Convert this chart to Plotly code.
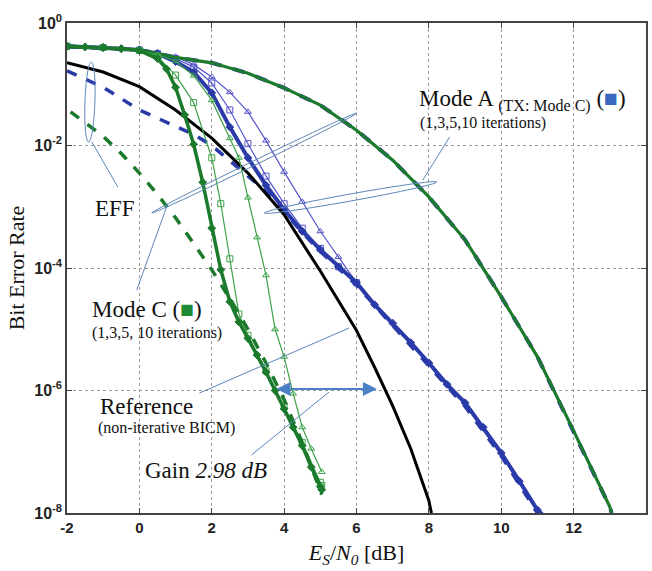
import numpy as np
import plotly.graph_objects as go

# ---------------- data (Es/N0 in dB, log10 of BER) ----------------
green_long_x = [-2, -1, 0, 1, 2, 3, 4, 5, 6, 7, 8, 9, 10, 11, 12, 13, 13.05]
green_long_log = [-0.38, -0.41, -0.44, -0.56, -0.65, -0.82, -1.06, -1.34, -1.75, -2.24,
                  -2.84, -3.54, -4.47, -5.45, -6.66, -7.9, -8.0]

ref_x = [-2, -1, 0, 1, 2, 3, 4, 5, 6, 6.5, 7, 7.5, 8, 8.07]
ref_log = [-0.65, -0.80, -1.04, -1.42, -1.88, -2.45, -3.13, -4.05, -5.02, -5.62, -6.25,
           -6.95, -7.8, -8.0]

a10_x = [-2, -1.5, -1, -0.5, 0, 0.5, 1, 1.5, 2, 2.5, 3, 3.5, 4, 4.5, 5, 5.5, 6, 6.5, 7,
         7.5, 8, 8.5, 9, 9.5, 10, 10.5, 11, 11.05]
a10_log = [-0.38, -0.39, -0.40, -0.42, -0.44, -0.5, -0.63, -0.8, -1.14, -1.7, -2.2, -2.65,
           -3.05, -3.4, -3.7, -3.98, -4.24, -4.6, -4.9, -5.22, -5.55, -5.9, -6.2, -6.6,
           -7.02, -7.48, -7.95, -8.0]

effa_x = [-2, -1, 0, 1, 1.5, 2, 2.5, 3, 3.5, 4, 4.5, 5, 6, 7, 8, 9, 10, 11]
effa_log = [-0.78, -1.05, -1.42, -1.68, -1.82, -2.0, -2.25, -2.5, -2.75, -3.08, -3.42,
            -3.73, -4.28, -4.94, -5.6, -6.26, -7.07, -8.0]

a3_x = [-2, -1, 0, 0.5, 1, 1.5, 2, 2.5, 3, 3.5, 4, 4.5, 5, 5.5, 6]
a3_log = [-0.38, -0.40, -0.44, -0.50, -0.58, -0.72, -0.98, -1.42, -1.97, -2.5, -2.95,
          -3.35, -3.68, -3.98, -4.24]

a1_x = [-2, -1, 0, 0.5, 1, 1.5, 2, 2.5, 3, 3.5, 4, 4.5, 5, 5.5, 6]
a1_log = [-0.38, -0.40, -0.44, -0.48, -0.55, -0.68, -0.88, -1.13, -1.45, -1.92, -2.43,
          -2.92, -3.4, -3.82, -4.24]

c10_x = [-2, -1.5, -1, -0.5, 0, 0.5, 0.75, 1, 1.25, 1.5, 1.75, 2, 2.25, 2.5, 2.75, 3,
         3.25, 3.5, 3.75, 4, 4.25, 4.5, 4.75, 5, 5.04]
c10_log = [-0.38, -0.39, -0.40, -0.42, -0.45, -0.58, -0.75, -1.05, -1.5, -1.98, -2.6,
           -3.35, -4.03, -4.55, -4.88, -5.15, -5.42, -5.7, -6.0, -6.3, -6.6, -6.9,
           -7.25, -7.57, -7.62]

c3_x = [-2, -1, 0, 0.5, 1, 1.5, 2, 2.25, 2.5, 2.75, 3, 3.5, 4, 4.5, 5, 5.04]
c3_log = [-0.38, -0.40, -0.45, -0.55, -0.85, -1.3, -2.2, -2.95, -3.85, -4.75, -5.1,
          -5.68, -6.25, -6.85, -7.5, -7.55]

c1_x = [-2, -1, 0, 0.5, 1, 1.5, 2, 2.5, 2.75, 3, 3.25, 3.5, 3.75, 4, 4.25, 4.5, 4.75, 5.04]
c1_log = [-0.38, -0.40, -0.45, -0.52, -0.62, -0.86, -1.26, -1.88, -2.2, -2.85, -3.5,
          -4.12, -5.0, -5.45, -6.05, -6.6, -6.95, -7.33]

effc_x = [-1.9, -1.5, -1, -0.5, 0, 0.5, 1, 1.5, 2, 2.5, 3, 3.5, 4, 4.5, 5.04]
effc_log = [-1.45, -1.62, -1.85, -2.13, -2.45, -2.8, -3.18, -3.6, -4.03, -4.5, -5.0,
            -5.55, -6.15, -6.85, -7.7]

x_ticks = [-2, 0, 2, 4, 6, 8, 10, 12, 14]
y_tick_exp = [0, -2, -4, -6, -8]

# ---------------- styling ----------------
BLUE = "#2a3aa8"
BLUE_THIN = "#5656cc"
GREEN = "#1b7a2b"
GREEN_THIN = "#3ea24a"
LEAD = "#5b86b8"
SERIF = "Liberation Serif, Times New Roman, serif"
SANS = "Liberation Sans, Arial, sans-serif"

W, H = 652, 571
L, R, T, B = 67, 648, 23, 513


def pv(v):
    return [10 ** a for a in v]


def P(px, py):
    return (px - L) / (R - L), (B - py) / (B - T)


fig = go.Figure()


def add(x, lg, color, width, dash="solid", symbol=None, msize=6, name=""):
    mode = "lines+markers" if symbol else "lines"
    fig.add_trace(go.Scatter(
        x=x, y=pv(lg), mode=mode, name=name,
        line=dict(color=color, width=width, dash=dash),
        marker=dict(symbol=symbol or "circle", size=msize, color=color,
                    line=dict(color=color, width=1)),
        showlegend=False, hoverinfo="skip"))


# blue curves first (under), then green
add(green_long_x, green_long_log, BLUE, 4, dash="dash", name="Mode A uncoded")
add(a1_x, a1_log, BLUE_THIN, 1.2, symbol="triangle-up-open", msize=6, name="Mode A 1 it")
add(a3_x, a3_log, BLUE_THIN, 1.2, symbol="square-open", msize=6, name="Mode A 3 it")
add(effa_x, effa_log, BLUE, 3.5, dash="dash", name="EFF A")
add(a10_x, a10_log, BLUE, 4, symbol="diamond", msize=6, name="Mode A 10 it")
add(ref_x, ref_log, "black", 3, name="Reference")
add(green_long_x, green_long_log, GREEN, 3.2, name="Mode C uncoded")
add(c1_x, c1_log, GREEN_THIN, 1.2, symbol="triangle-up-open", msize=6, name="Mode C 1 it")
add(c3_x, c3_log, GREEN_THIN, 1.2, symbol="square-open", msize=6, name="Mode C 3 it")
add(effc_x, effc_log, GREEN, 3.5, dash="dash", name="EFF C")
add(c10_x, c10_log, GREEN, 3.5, symbol="diamond", msize=6, name="Mode C 10 it")

# ---------------- annotation shapes ----------------
shapes = []


def line(p1, p2, color=LEAD, width=1):
    x0, y0 = P(*p1)
    x1, y1 = P(*p2)
    shapes.append(dict(type="line", xref="paper", yref="paper", x0=x0, y0=y0, x1=x1, y1=y1,
                       line=dict(color=color, width=width)))


def ellipse(c, a, b, ang_deg, color=LEAD, width=1):
    t = np.linspace(0, 2 * np.pi, 60)
    ang = np.deg2rad(ang_deg)
    xs = c[0] + a * np.cos(t) * np.cos(ang) - b * np.sin(t) * np.sin(ang)
    ys = c[1] + a * np.cos(t) * np.sin(ang) + b * np.sin(t) * np.cos(ang)
    pts = [P(xx, yy) for xx, yy in zip(xs, ys)]
    path = "M " + " L ".join(f"{px:.5f},{py:.5f}" for px, py in pts) + " Z"
    shapes.append(dict(type="path", xref="paper", yref="paper", path=path,
                       line=dict(color=color, width=width)))


def ellipse_between(p1, p2, b, color=LEAD, width=1):
    cx, cy = (p1[0] + p2[0]) / 2, (p1[1] + p2[1]) / 2
    dx, dy = p2[0] - p1[0], p2[1] - p1[1]
    a = np.hypot(dx, dy) / 2
    ellipse((cx, cy), a, b, np.degrees(np.arctan2(dy, dx)), color, width)


ellipse((90, 102), 40, 5, 92)            # EFF ellipse
line((92, 142), (118, 187))              # EFF leader
ellipse_between((152, 213), (358, 113), 2.2)   # EFF wedge
line((137, 290), (168, 204))             # Mode C leader
ellipse_between((265, 213), (438, 182), 3.5)   # Mode A ellipse
line((424, 180), (451, 137))             # Mode A leader
line((200, 393), (350, 328))             # Reference leader
line((252, 455), (330, 392))             # Gain leader

# ---------------- text annotations ----------------
ann = []


def text(px, py, s, size, anchor="left"):
    x, y = P(px, py)
    ann.append(dict(xref="paper", yref="paper", x=x, y=y, text=s, showarrow=False,
                    xanchor=anchor, yanchor="middle",
                    font=dict(family=SERIF, size=size, color="#111")))


text(93, 208, "EFF", 23)
text(418, 100, "Mode A <sub><span style='font-size:16px'>(TX: Mode C)</span></sub> "
     "(<span style='color:#3a68c0'>■</span>)", 23)
text(419, 123, "(1,3,5,10 iterations)", 16)
text(90, 310, "Mode C (<span style='color:#1e8a34'>■</span>)", 23)
text(90, 333, "(1,3,5, 10 iterations)", 16)
text(98, 406, "Reference", 23)
text(96, 428, "(non-iterative BICM)", 16)
text(143, 470, "Gain <i>2.98 dB</i>", 23)

# gain double arrow
ax_, ay_ = P(378, 389)
ann.append(dict(xref="paper", yref="paper", x=ax_, y=ay_, ax=-102, ay=0, text="",
                showarrow=True, arrowhead=2, arrowside="end+start", arrowsize=1.4,
                arrowwidth=2, arrowcolor="#4a80c4", standoff=0, startstandoff=0))

fig.update_layout(
    width=W, height=H,
    margin=dict(l=L, r=W - R, t=T, b=H - B),
    paper_bgcolor="white", plot_bgcolor="white",
    shapes=shapes, annotations=ann,
    xaxis=dict(range=[-2, 14], tickvals=x_ticks, ticktext=[str(v) for v in x_ticks],
               showgrid=True, gridcolor="#9a9a9a", griddash="dot", gridwidth=1,
               zeroline=False, showline=True, linecolor="#444", linewidth=1.5,
               mirror="ticks", ticks="inside", ticklen=5, tickcolor="#444",
               tickfont=dict(family=SANS, size=15, color="#222", weight="bold"),
               title=dict(text="<i>E<sub>S</sub></i>/<i>N<sub>0</sub></i> [dB]",
                          font=dict(family=SERIF, size=22, color="#111"), standoff=10)),
    yaxis=dict(type="log", range=[-8, 0],
               tickvals=[10.0 ** e for e in y_tick_exp],
               ticktext=[f"10<sup>{e}</sup>" for e in y_tick_exp],
               showgrid=True, gridcolor="#9a9a9a", griddash="dot", gridwidth=1,
               zeroline=False, showline=True, linecolor="#444", linewidth=1.5,
               mirror="ticks", ticks="inside", ticklen=5, tickcolor="#444",
               tickfont=dict(family=SANS, size=16, color="#222", weight="bold"),
               title=dict(text="Bit Error Rate",
                          font=dict(family=SERIF, size=22, color="#111"), standoff=4)),
)

fig.write_html("out.html")
